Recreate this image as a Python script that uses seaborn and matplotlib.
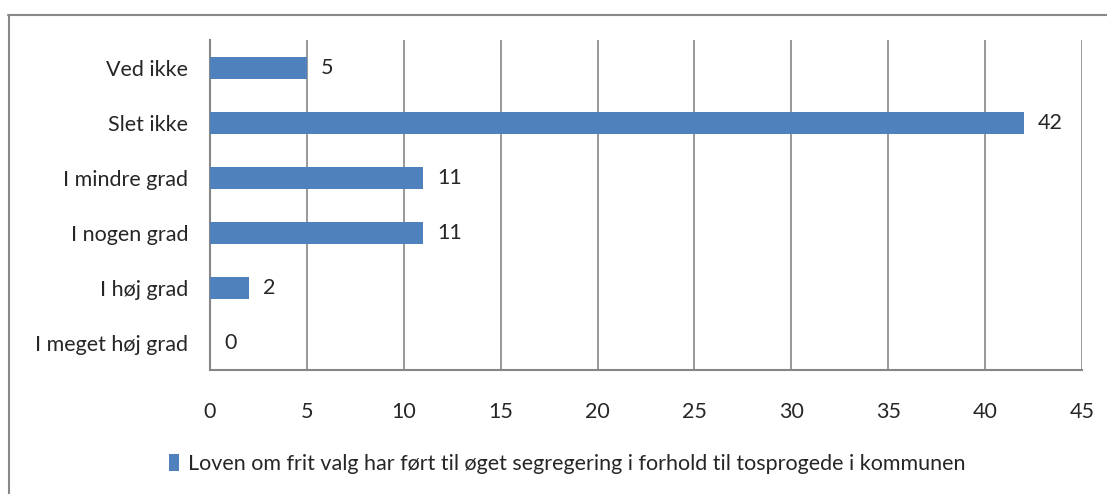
"""Horizontal bar chart: frit valg og segregering."""

import matplotlib
matplotlib.use("Agg")
import matplotlib.pyplot as plt
from matplotlib.lines import Line2D
from matplotlib.patches import Patch
import pandas as pd
import seaborn as sns

# Data
categories = ["Ved ikke", "Slet ikke", "I mindre grad", "I nogen grad",
              "I høj grad", "I meget høj grad"]
values = [5, 42, 11, 11, 2, 0]
series_name = ("Loven om frit valg har ført til øget segregering "
               "i forhold til tosprogede i kommunen")
x_ticks = [0, 5, 10, 15, 20, 25, 30, 35, 40, 45]

BAR_COLOR = "#4F81BD"
GRID_COLOR = "#868686"
FONT_SIZE = 15.5

sns.set_style("white")
plt.rcParams["font.family"] = ["Lato", "DejaVu Sans"]

df = pd.DataFrame({"kategori": categories, "antal": values})

W, H = 1107, 494
fig = plt.figure(figsize=(W / 100, H / 100), dpi=100)
ax = fig.add_axes([210 / W, 1 - 370 / H, (1082 - 210) / W, (370 - 40) / H])

sns.barplot(data=df, y="kategori", x="antal", orient="h", color=BAR_COLOR,
            width=0.4, saturation=1, linewidth=0, ax=ax, zorder=3)

ax.set_xlim(0, 45)
ax.set_ylim(len(categories) - 0.5, -0.5)
ax.set_xticks(x_ticks)
ax.set_xticklabels([str(t) for t in x_ticks], fontsize=FONT_SIZE)
ax.set_xlabel("")
ax.set_ylabel("")
ax.tick_params(axis="y", which="major", length=0, pad=15.5, labelsize=FONT_SIZE)
ax.set_yticks([i - 0.5 for i in range(len(categories) + 1)], minor=True)
ax.tick_params(axis="y", which="minor", length=7, width=1.2,
               color=GRID_COLOR, direction="out")
ax.tick_params(axis="x", which="major", length=6, width=1.2,
               color=GRID_COLOR, direction="inout", pad=20)

ax.grid(axis="x", color=GRID_COLOR, linewidth=1.2, zorder=0)
ax.set_axisbelow(True)
for side in ["top", "right"]:
    ax.spines[side].set_visible(False)
for side in ["left", "bottom"]:
    ax.spines[side].set_color(GRID_COLOR)
    ax.spines[side].set_linewidth(1.5)

for container in ax.containers:
    ax.bar_label(container, labels=[str(v) for v in values],
                 padding=10, fontsize=FONT_SIZE)

handle = Patch(facecolor=BAR_COLOR, edgecolor="none")
fig.legend([handle], [series_name], loc="center",
           bbox_to_anchor=(567 / W, 1 - 464 / H), frameon=False,
           fontsize=FONT_SIZE, handlelength=0.5, handleheight=0.8,
           handletextpad=0.4)

# outer chart border (only left/top visible in the crop)
fig.add_artist(Line2D([8.5 / W, 8.5 / W], [0, 1 - 15 / H],
                      color="#888888", linewidth=1.5,
                      transform=fig.transFigure))
fig.add_artist(Line2D([8 / W, 1], [1 - 15 / H, 1 - 15 / H],
                      color="#888888", linewidth=1.5,
                      transform=fig.transFigure))

fig.savefig("out.png", dpi=100)
